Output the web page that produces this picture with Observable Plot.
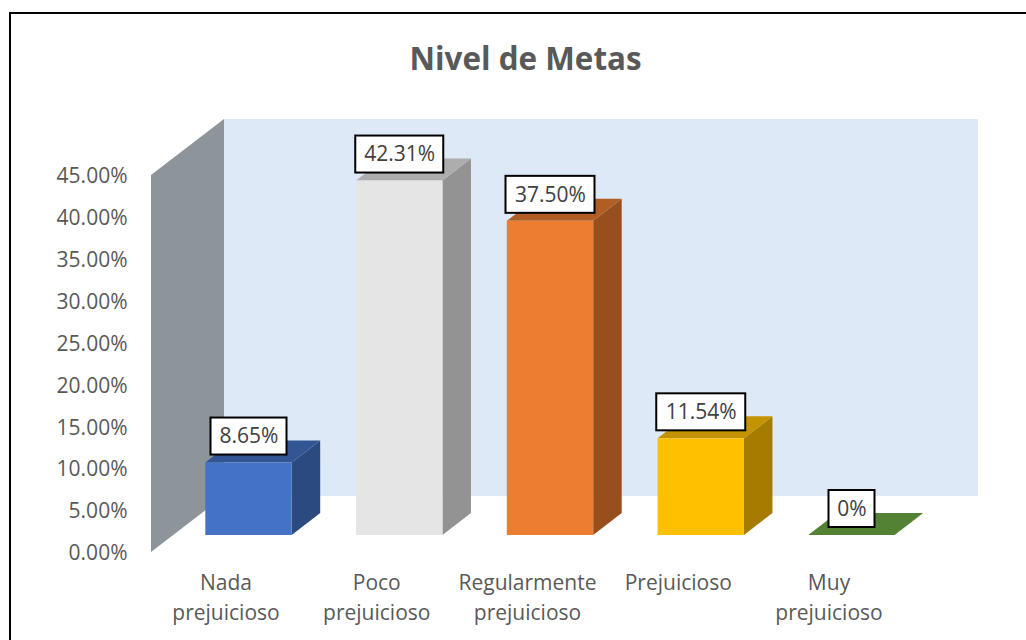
<!DOCTYPE html>
<html lang="es">
<head>
<meta charset="utf-8">
<script src="https://cdn.jsdelivr.net/npm/d3@7"></script>
<script src="https://cdn.jsdelivr.net/npm/@observablehq/plot@0.6"></script>
<style>
html,body{margin:0;padding:0;background:#fff;overflow:hidden;width:1026px;height:640px}
#frame{position:absolute;left:9px;top:12px;width:1017px;height:628px;border-left:2px solid #000;border-top:2px solid #000;box-sizing:border-box;pointer-events:none}
#chart{position:absolute;left:0;top:0}
svg{overflow:visible}
</style>
</head>
<body>
<div id="chart"></div>
<div id="frame"></div>
<script>
const title = "Nivel de Metas";
const categories = ["Nada\nprejuicioso", "Poco\nprejuicioso", "Regularmente\nprejuicioso", "Prejuicioso", "Muy\nprejuicioso"];
const values = [8.65, 42.31, 37.50, 11.54, 0];
const valueLabels = ["8.65%", "42.31%", "37.50%", "11.54%", "0%"];
const yTicks = [0, 5, 10, 15, 20, 25, 30, 35, 40, 45];
const frontColors = ["#4472C4", "#E5E5E5", "#ED7D31", "#FFC000", "#548235"];
const sideColors = ["#2A4A80", "#939393", "#984F1E", "#A67C00", "#385723"];
const topColors = ["#325694", "#ADADAD", "#B15D24", "#C49300", "#548235"];
const labelBoxPx = [76, 88, 89, 89, 46];

// pixel-to-data helpers: 3D perspective offsets expressed in scale units
const pxX = 1 / 150.75, pxY = 45 / 377;
const barHalf = 43.2 * pxX;
const floorLift = 17 * pxY;
const barDx = 28.5 * pxX, barDy = 22 * pxY;
const wallDx = 73 * pxX, wallDy = 56 * pxY;
const wallLeft = -97.5 * pxX, wallRight = 729.5 * pxX;

const idx = categories.map((_, i) => i);
const marks = [
  // back wall
  Plot.rect([0], {x1: wallLeft + wallDx, x2: wallRight, y1: wallDy, y2: 45 + wallDy, fill: "#DEE9F7"}),
  // left wall
  Plot.areaY([
    {x: wallLeft, y1: 0, y2: 45},
    {x: wallLeft + wallDx, y1: wallDy, y2: 45 + wallDy}
  ], {x: "x", y1: "y1", y2: "y2", fill: "#8D959B"})
];

idx.forEach(i => {
  const l = i - barHalf, r = i + barHalf;
  const base = floorLift, top = floorLift + values[i];
  if (values[i] > 0) {
    marks.push(Plot.areaY([
      {x: r, y1: base, y2: top},
      {x: r + barDx, y1: base + barDy, y2: top + barDy}
    ], {x: "x", y1: "y1", y2: "y2", fill: sideColors[i]}));
  }
  marks.push(Plot.areaX([
    {y: top, x1: l, x2: r},
    {y: top + barDy, x1: l + barDx, x2: r + barDx}
  ], {y: "y", x1: "x1", x2: "x2", fill: topColors[i]}));
  if (values[i] > 0) {
    marks.push(Plot.rect([0], {x1: l, x2: r, y1: base, y2: top, fill: frontColors[i]}));
  }
});

// data label boxes and text
const labelRows = idx.map(i => ({
  i,
  label: valueLabels[i],
  cy: floorLift + values[i] + 26.5 * pxY,
  half: labelBoxPx[i] / 2 * pxX
}));
marks.push(
  Plot.rect(labelRows, {
    x1: d => d.i - d.half, x2: d => d.i + d.half,
    y1: d => d.cy - 18.5 * pxY, y2: d => d.cy + 18.5 * pxY,
    fill: "#fff", stroke: "#000", strokeWidth: 2
  }),
  Plot.text(labelRows, {
    x: "i", y: "cy", text: "label",
    fontSize: 21, fill: "#404040", textAnchor: "middle", lineAnchor: "middle"
  }),
  Plot.axisY({
    ticks: yTicks, tickSize: 0, tickPadding: 4, label: null, anchor: "left",
    tickFormat: d => d.toFixed(2) + "%", fontSize: 21, color: "#595959", dy: 1
  }),
  Plot.axisX({
    ticks: idx, tickSize: 0, label: null, anchor: "bottom",
    tickFormat: i => categories[i], fontSize: 21, color: "#595959",
    lineHeight: 1.43, lineAnchor: "top", tickPadding: 0, dx: -23, dy: -1.5, textOverflow: null
  }),
  Plot.text([title], {
    frameAnchor: "top", dx: -53.5, dy: 59, text: d => d,
    fontSize: 31.4, fontWeight: 700, fill: "#595959", lineAnchor: "middle"
  })
);

const chart = Plot.plot({
  width: 1026,
  height: 640,
  marginTop: 0,
  marginRight: 0,
  marginBottom: 70,
  marginLeft: 131,
  style: {fontFamily: "'Open Sans', sans-serif", background: "#fff", overflow: "visible"},
  x: {type: "linear", domain: [0, 4], range: [248.5, 851.5]},
  y: {type: "linear", domain: [0, 45], range: [552, 175]},
  marks
});
document.getElementById("chart").appendChild(chart);
</script>
</body>
</html>
